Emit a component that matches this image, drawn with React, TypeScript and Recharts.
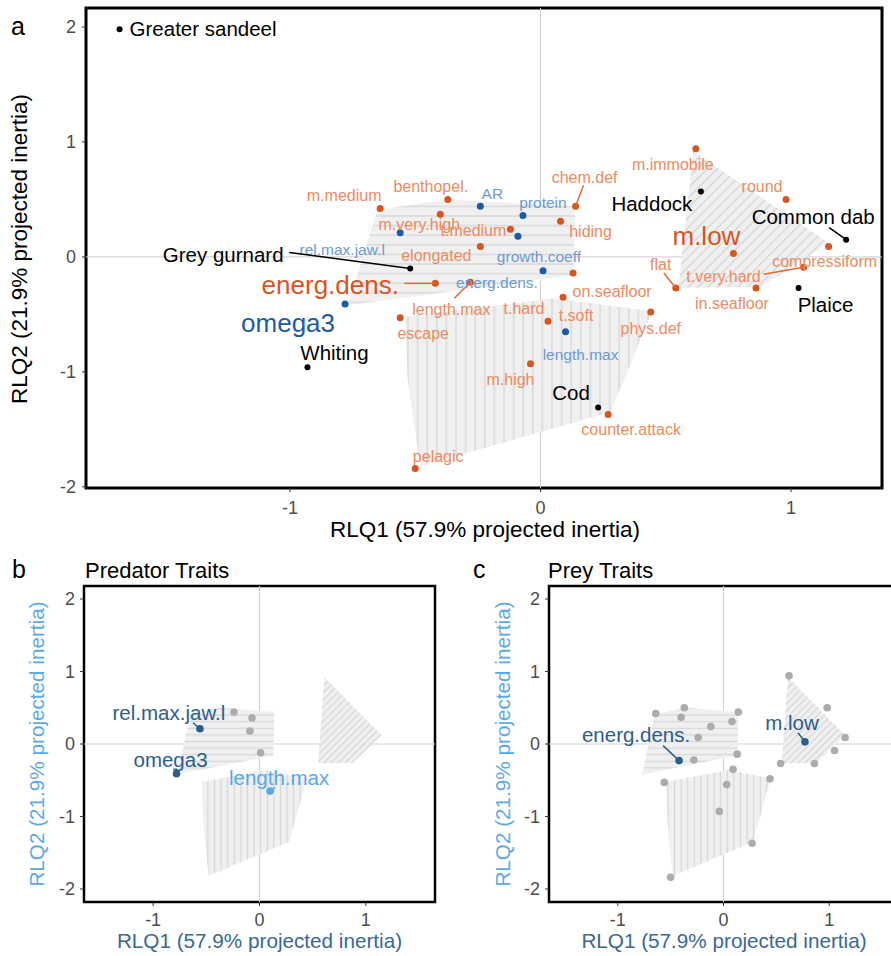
import { ScatterChart, Scatter, XAxis, YAxis, ReferenceLine, ReferenceArea } from "recharts";

const FONT = "'Liberation Sans', Arial, Helvetica, sans-serif";

// species scores (RLQ1, RLQ2)
const speciesNames = ["Greater sandeel", "Grey gurnard", "Whiting", "Haddock", "Common dab", "Plaice", "Cod"];
const speciesX = [-1.68, -0.52, -0.93, 0.64, 1.22, 1.03, 0.23];
const speciesY = [1.98, -0.1, -0.96, 0.57, 0.15, -0.27, -1.31];

// predator trait scores
const predNames = ["AR", "protein", "rel.max.jaw.l", "growth.coeff", "energ.dens.", "omega3", "length.max"];
const predX = [-0.24, -0.07, -0.56, -0.09, 0.01, -0.78, 0.1];
const predY = [0.44, 0.36, 0.21, 0.18, -0.12, -0.41, -0.65];

// prey trait scores
const preyNames = [
  "m.medium", "benthopel.", "m.very.high", "t.medium", "elongated", "energ.dens.", "length.max",
  "chem.def", "hiding", "on.seafloor", "t.soft", "t.hard", "escape", "phys.def", "m.high",
  "counter.attack", "pelagic", "m.immobile", "round", "m.low", "compressiform", "t.very.hard",
  "flat", "in.seafloor",
];
const preyX = [-0.64, -0.37, -0.4, -0.12, -0.24, -0.42, -0.28, 0.14, 0.08, 0.13, 0.09, 0.03, -0.56, 0.44, -0.04, 0.27, -0.5, 0.62, 0.98, 0.77, 1.15, 1.05, 0.54, 0.86];
const preyY = [0.42, 0.5, 0.37, 0.24, 0.09, -0.23, -0.22, 0.44, 0.31, -0.14, -0.35, -0.56, -0.53, -0.48, -0.93, -1.37, -1.84, 0.94, 0.5, 0.03, 0.09, -0.09, -0.27, -0.27];

// cluster outlines
const hullHX = [-0.77, -0.65, -0.37, 0.14, 0.13];
const hullHY = [-0.42, 0.41, 0.5, 0.44, -0.16];
const hullVX = [-0.54, 0.05, 0.4, 0.445, 0.28, -0.48, -0.53];
const hullVY = [-0.52, -0.36, -0.46, -0.48, -1.35, -1.82, -1.07];
const hullDX = [0.61, 1.15, 0.88, 0.55];
const hullDY = [0.92, 0.12, -0.26, -0.27];

const xTicks = [-1, 0, 1];
const yTicks = [-2, -1, 0, 1, 2];

type Pt = { name: string; x: number; y: number };
const zip = (names: string[], xs: number[], ys: number[]): Pt[] =>
  names.map((name, i) => ({ name, x: xs[i], y: ys[i] }));
const outline = (xs: number[], ys: number[]) => xs.map((x, i) => ({ x, y: ys[i] }));

const species = zip(speciesNames, speciesX, speciesY);
const predator = zip(predNames, predX, predY);
const prey = zip(preyNames, preyX, preyY);

// label placement, pixel offsets from the point
type Lab = { dx: number; dy: number; lead?: [number, number]; big?: boolean; start?: boolean };

const speciesLabA: Record<string, Lab> = {
  "Greater sandeel": { dx: 10, dy: -1, start: true },
  "Grey gurnard": { dx: -187, dy: -14, lead: [-121, -16] },
  Whiting: { dx: 27, dy: -15 },
  Haddock: { dx: -49, dy: 12 },
  "Common dab": { dx: -33, dy: -23, lead: [-17, -12] },
  Plaice: { dx: 27, dy: 17 },
  Cod: { dx: -27, dy: -15 },
};
const predLabA: Record<string, Lab> = {
  AR: { dx: 12, dy: -13 },
  protein: { dx: 20, dy: -13 },
  "rel.max.jaw.l": { dx: -58, dy: 17 },
  "growth.coeff": { dx: 21, dy: 20 },
  "energ.dens.": { dx: -46, dy: 12 },
  omega3: { dx: -57, dy: 19, big: true },
  "length.max": { dx: 15, dy: 23 },
};
const preyLabA: Record<string, Lab> = {
  "m.medium": { dx: -36, dy: -13 },
  "benthopel.": { dx: -17, dy: -13 },
  "m.very.high": { dx: -21, dy: 10 },
  "t.medium": { dx: -37, dy: 1 },
  elongated: { dx: -44, dy: 9 },
  "energ.dens.": { dx: -105, dy: 2, lead: [-31, 0], big: true },
  "length.max": { dx: -19, dy: 27, lead: [-16, 16] },
  "chem.def": { dx: 9, dy: -29, lead: [8, -21] },
  hiding: { dx: 30, dy: 10 },
  "on.seafloor": { dx: 39, dy: 18 },
  "t.soft": { dx: 13, dy: 18 },
  "t.hard": { dx: -24, dy: -13 },
  escape: { dx: 23, dy: 16 },
  "phys.def": { dx: 0, dy: 16 },
  "m.high": { dx: -20, dy: 16 },
  "counter.attack": { dx: 23, dy: 15 },
  pelagic: { dx: 23, dy: -12 },
  "m.immobile": { dx: -23, dy: 16 },
  round: { dx: -24, dy: -13 },
  "m.low": { dx: -27, dy: -17, big: true },
  compressiform: { dx: -4, dy: 15 },
  "t.very.hard": { dx: -80, dy: 9, lead: [-40, 7] },
  flat: { dx: -15, dy: -23, lead: [-12, -15] },
  "in.seafloor": { dx: -24, dy: 16 },
};
const predLabB: Record<string, Lab> = {
  "rel.max.jaw.l": { dx: -31, dy: -16, lead: [-7, -6] },
  omega3: { dx: -6, dy: -14, lead: [-3, -5] },
  "length.max": { dx: 9, dy: -14, lead: [5, -4] },
};
const preyLabC: Record<string, Lab> = {
  "energ.dens.": { dx: -43, dy: -26, lead: [-16, -15] },
  "m.low": { dx: -13, dy: -19, lead: [-7, -9] },
};

const ORANGE = "#d9541e";
const ORANGE_TXT = "#ec8b5f";
const BLUE = "#1c5ba6";
const BLUE_TXT = "#6c9ad2";
const DARK = "#2d5e8a";
const LIGHT = "#56a9ee";
const GREY = "#acacac";

const none = () => <g />;

const hatch = (id: string, angle: number, gap: number, stroke: string) => (p: any) => {
  const pts = (p.points || []) as { x: number; y: number }[];
  if (!pts.length) return <g />;
  const d = pts.map((q, i) => `${i ? "L" : "M"}${q.x},${q.y}`).join(" ") + " Z";
  return (
    <g>
      <defs>
        <pattern id={id} patternUnits="userSpaceOnUse" width={gap} height={gap} patternTransform={`rotate(${angle})`}>
          <rect x={0} y={0} width={gap} height={gap} fill="#f0f0f0" />
          <line x1={0} y1={gap / 2} x2={gap} y2={gap / 2} stroke={stroke} strokeWidth={1.2} />
        </pattern>
      </defs>
      <path d={d} fill={`url(#${id})`} stroke="none" />
    </g>
  );
};

const dot = (r: number, color: (name: string) => string) => (p: any) =>
  <circle cx={p.cx} cy={p.cy} r={r} fill={color(p.payload.name)} />;

type LabStyle = { size: number; color: string; lead: string };
const labels = (layout: Record<string, Lab>, style: (name: string, lab: Lab) => LabStyle) => (p: any) => {
  const lab = layout[p.payload.name];
  if (!lab) return <g />;
  const s = style(p.payload.name, lab);
  return (
    <g>
      {lab.lead && (
        <line x1={p.cx + lab.lead[0]} y1={p.cy + lab.lead[1]} x2={p.cx} y2={p.cy} stroke={s.lead} strokeWidth={1.5} />
      )}
      <text
        x={p.cx + lab.dx}
        y={p.cy + lab.dy}
        textAnchor={lab.start ? "start" : "middle"}
        dominantBaseline="central"
        fontSize={s.size}
        fill={s.color}
        fontFamily={FONT}
      >
        {p.payload.name}
      </text>
    </g>
  );
};

const tickStyle = { fill: "#4d4d4d", fontSize: 18, fontFamily: FONT };

function PanelA() {
  const xd: [number, number] = [-1.814, 1.363];
  const yd: [number, number] = [-2.01, 2.165];
  return (
    <ScatterChart width={891} height={545} margin={{ top: 8, right: 9, bottom: 0, left: 0 }}>
      <XAxis type="number" dataKey="x" domain={xd} ticks={xTicks} allowDataOverflow height={57}
        axisLine={false} tickSize={4} tickMargin={9} tickLine={{ stroke: "#333" }} tick={tickStyle} />
      <YAxis type="number" dataKey="y" domain={yd} ticks={yTicks} allowDataOverflow width={86}
        axisLine={false} tickSize={4} tickMargin={6} tickLine={{ stroke: "#333" }} tick={tickStyle} />
      <Scatter data={outline(hullHX, hullHY)} line={hatch("a-h", 0, 9.6, "#d3d3d3")} shape={none} isAnimationActive={false} />
      <Scatter data={outline(hullVX, hullVY)} line={hatch("a-v", 90, 9.6, "#d3d3d3")} shape={none} isAnimationActive={false} />
      <Scatter data={outline(hullDX, hullDY)} line={hatch("a-d", -45, 7, "#d3d3d3")} shape={none} isAnimationActive={false} />
      <ReferenceLine x={0} stroke="#cdcdcd" strokeWidth={1} />
      <ReferenceLine y={0} stroke="#cdcdcd" strokeWidth={1} />
      <Scatter data={prey} shape={dot(3.5, () => ORANGE)} isAnimationActive={false} />
      <Scatter data={predator} shape={dot(3.5, () => BLUE)} isAnimationActive={false} />
      <Scatter data={species} shape={dot(3, () => "#000")} isAnimationActive={false} />
      <Scatter data={prey} isAnimationActive={false}
        shape={labels(preyLabA, (_n, l) => ({ size: l.big ? 26 : 16, color: l.big ? ORANGE : ORANGE_TXT, lead: "#e06a35" }))} />
      <Scatter data={predator} isAnimationActive={false}
        shape={labels(predLabA, (_n, l) => ({ size: l.big ? 26 : 15.5, color: l.big ? BLUE : BLUE_TXT, lead: BLUE }))} />
      <Scatter data={species} isAnimationActive={false}
        shape={labels(speciesLabA, () => ({ size: 20.5, color: "#000", lead: "#000" }))} />
      <ReferenceArea x1={xd[0]} x2={xd[1]} y1={yd[0]} y2={yd[1]} fill="none" stroke="#000" strokeWidth={3} ifOverflow="visible" />
    </ScatterChart>
  );
}

function SmallPanel({ prefix, yWidth, right, data, layout, color }: {
  prefix: string;
  yWidth: number;
  right: number;
  data: Pt[];
  layout: Record<string, Lab>;
  color: (name: string) => string;
}) {
  const xd: [number, number] = [-1.65, 1.65];
  const yd: [number, number] = [-2.18, 2.18];
  return (
    <ScatterChart width={440} height={396} margin={{ top: 26, right, bottom: 0, left: 0 }}>
      <XAxis type="number" dataKey="x" domain={xd} ticks={xTicks} allowDataOverflow height={54}
        axisLine={false} tickSize={4} tickMargin={7} tickLine={{ stroke: "#333" }} tick={tickStyle} />
      <YAxis type="number" dataKey="y" domain={yd} ticks={yTicks} allowDataOverflow width={yWidth}
        axisLine={false} tickSize={4} tickMargin={5} tickLine={{ stroke: "#333" }} tick={tickStyle} />
      <Scatter data={outline(hullHX, hullHY)} line={hatch(prefix + "-h", 0, 6.6, "#d6d6d6")} shape={none} isAnimationActive={false} />
      <Scatter data={outline(hullVX, hullVY)} line={hatch(prefix + "-v", 90, 6.6, "#d6d6d6")} shape={none} isAnimationActive={false} />
      <Scatter data={outline(hullDX, hullDY)} line={hatch(prefix + "-d", -45, 5, "#d6d6d6")} shape={none} isAnimationActive={false} />
      <ReferenceLine x={0} stroke="#b6d4f0" strokeWidth={1} />
      <ReferenceLine y={0} stroke="#c8d5e1" strokeWidth={1} />
      <Scatter data={data} shape={dot(3.8, color)} isAnimationActive={false} />
      <Scatter data={data} isAnimationActive={false}
        shape={labels(layout, (n) => ({ size: 20.5, color: color(n), lead: color(n) }))} />
      <ReferenceArea x1={xd[0]} x2={xd[1]} y1={yd[0]} y2={yd[1]} fill="none" stroke="#000" strokeWidth={2.5} ifOverflow="visible" />
    </ScatterChart>
  );
}

const predColor = (n: string) => (n === "length.max" ? LIGHT : predLabB[n] ? DARK : GREY);
const preyColor = (n: string) => (preyLabC[n] ? DARK : GREY);

export default function App() {
  const xTitle = "RLQ1 (57.9% projected inertia)";
  const yTitle = "RLQ2 (21.9% projected inertia)";
  return (
    <div style={{ position: "absolute", left: 0, top: 0, width: 891, height: 956, overflow: "hidden", background: "#fff" }}>
      <div style={{ position: "absolute", left: 0, top: 0 }}>
        <PanelA />
      </div>
      <div style={{ position: "absolute", left: 0, top: 560 }}>
        <SmallPanel prefix="b" yWidth={84} right={5} data={predator} layout={predLabB} color={predColor} />
      </div>
      <div style={{ position: "absolute", left: 460, top: 560 }}>
        <SmallPanel prefix="c" yWidth={89} right={2} data={prey} layout={preyLabC} color={preyColor} />
      </div>
      <svg width={891} height={956} style={{ position: "absolute", left: 0, top: 0, pointerEvents: "none" }} fontFamily={FONT}>
        <text x={11} y={35} fontSize={25} fill="#000">a</text>
        <text x={12} y={578} fontSize={25} fill="#000">b</text>
        <text x={473} y={578} fontSize={25} fill="#000">c</text>
        <text x={85} y={578} fontSize={22} fill="#000">Predator Traits</text>
        <text x={548} y={578} fontSize={22} fill="#000">Prey Traits</text>

        <text x={485} y={536.5} fontSize={22.5} textAnchor="middle" fill="#000">{xTitle}</text>
        <text transform="translate(26.7,249) rotate(-90)" fontSize={22.5} textAnchor="middle" fill="#000">{yTitle}</text>

        <text x={259.5} y={948} fontSize={20.7} textAnchor="middle" fill="#3a6893">{xTitle}</text>
        <text transform="translate(44.3,744) rotate(-90)" fontSize={20.7} textAnchor="middle" fill="#5aaae8">{yTitle}</text>

        <text x={724} y={948} fontSize={20.7} textAnchor="middle" fill="#3a6893">{xTitle}</text>
        <text transform="translate(510,744) rotate(-90)" fontSize={20.7} textAnchor="middle" fill="#5aaae8">{yTitle}</text>
      </svg>
    </div>
  );
}
